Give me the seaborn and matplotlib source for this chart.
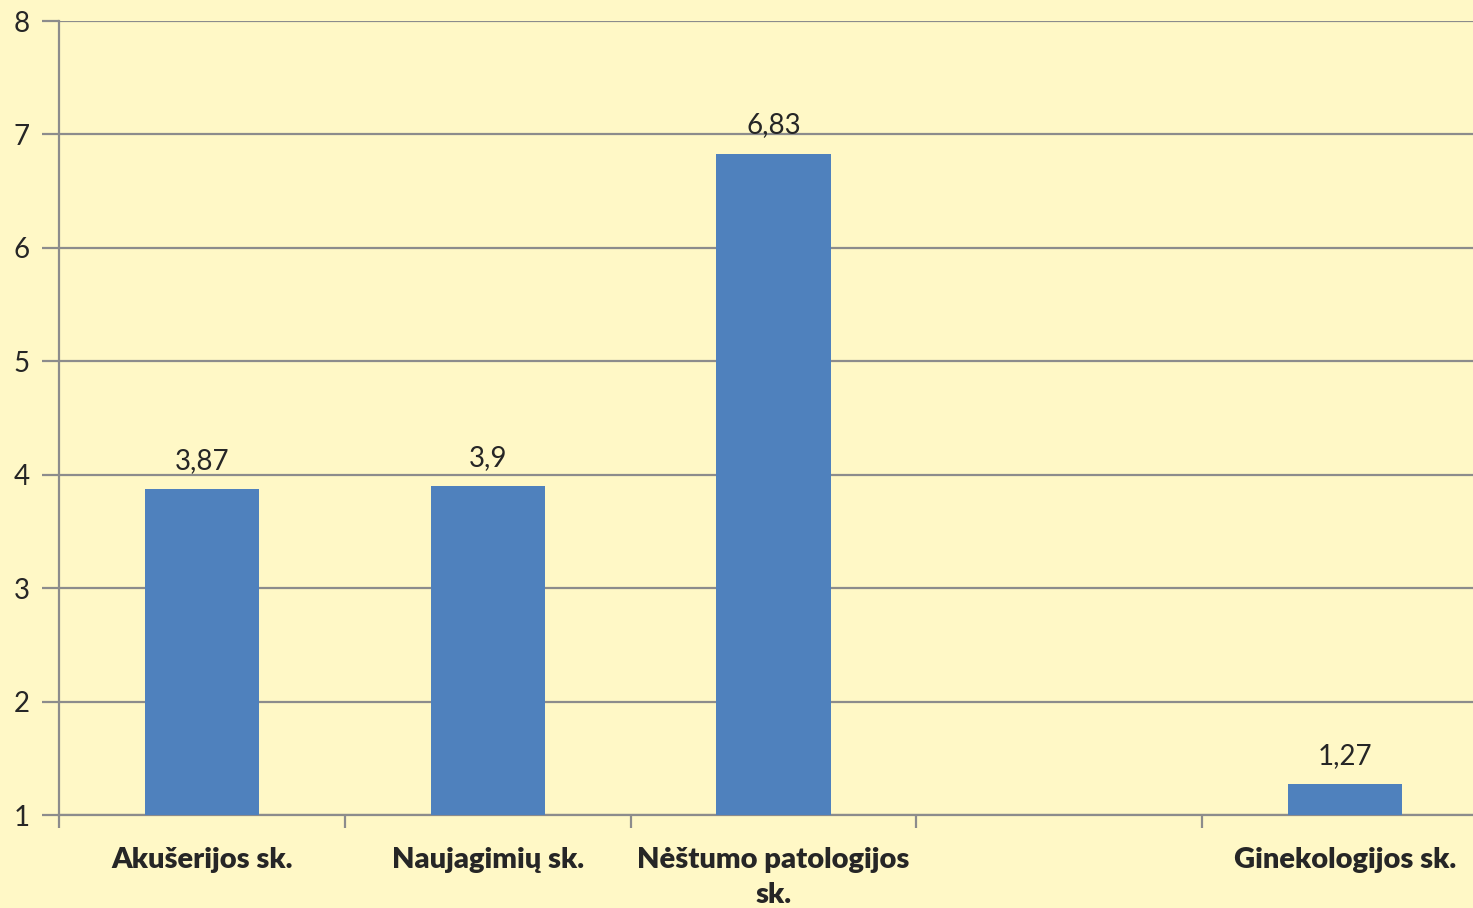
import matplotlib.pyplot as plt
import numpy as np
import pandas as pd
import seaborn as sns

# skyriai ir reikšmės
categories = ['Akušerijos sk.', 'Naujagimių sk.', 'Nėštumo patologijos\nsk.', '', 'Ginekologijos sk.']
values = [3.87, 3.9, 6.83, np.nan, 1.27]
value_labels = ['3,87', '3,9', '6,83', '', '1,27']
y_ticks = [1, 2, 3, 4, 5, 6, 7, 8]

df = pd.DataFrame({'category': categories, 'value': values})

bg = '#FFF8C6'
grid_col = '#8C8C8C'

sns.set_style('white')
plt.rcParams['font.family'] = ['Lato', 'DejaVu Sans']

fig = plt.figure(figsize=(14.73, 9.08), dpi=100, facecolor=bg)
ax = fig.add_axes([59 / 1473, 1 - 815 / 908, (1488 - 59) / 1473, (815 - 21) / 908])
ax.set_facecolor(bg)

sns.barplot(data=df, x='category', y='value', order=categories, color='#4F81BD',
            saturation=1, width=0.4, linewidth=0, ax=ax, zorder=3)

ax.set_ylim(1, 8)
ax.set_xlim(-0.5, len(categories) - 0.5)
ax.set_yticks(y_ticks)
ax.set_yticklabels([str(t) for t in y_ticks], fontsize=20)
ax.yaxis.grid(True, color=grid_col, linewidth=1.6, zorder=0)
ax.tick_params(axis='y', left=True, length=12, width=1.6, color=grid_col, pad=9)

# kategorijų ribos kaip pagrindinės žymės, pavadinimai per vidurį
ax.set_xticks(np.arange(len(categories) + 1) - 0.5)
ax.set_xticklabels([])
ax.tick_params(axis='x', which='major', bottom=True, length=9, width=1.6, color=grid_col)
ax.set_xticks(np.arange(len(categories)), minor=True)
ax.set_xticklabels(categories, minor=True, fontsize=21, fontweight='heavy', linespacing=1.45)
ax.tick_params(axis='x', which='minor', length=0, pad=23)
ax.set_xlabel('')
ax.set_ylabel('')

for side in ['top', 'right']:
    ax.spines[side].set_visible(False)
for side in ['left', 'bottom']:
    ax.spines[side].set_color(grid_col)
    ax.spines[side].set_linewidth(1.6)

for i, (v, lab) in enumerate(zip(values, value_labels)):
    if lab:
        ax.annotate(lab, (i, v), xytext=(0, 11), textcoords='offset points',
                    ha='center', va='bottom', fontsize=20)

plt.savefig('out.png', dpi=100, facecolor=bg)
